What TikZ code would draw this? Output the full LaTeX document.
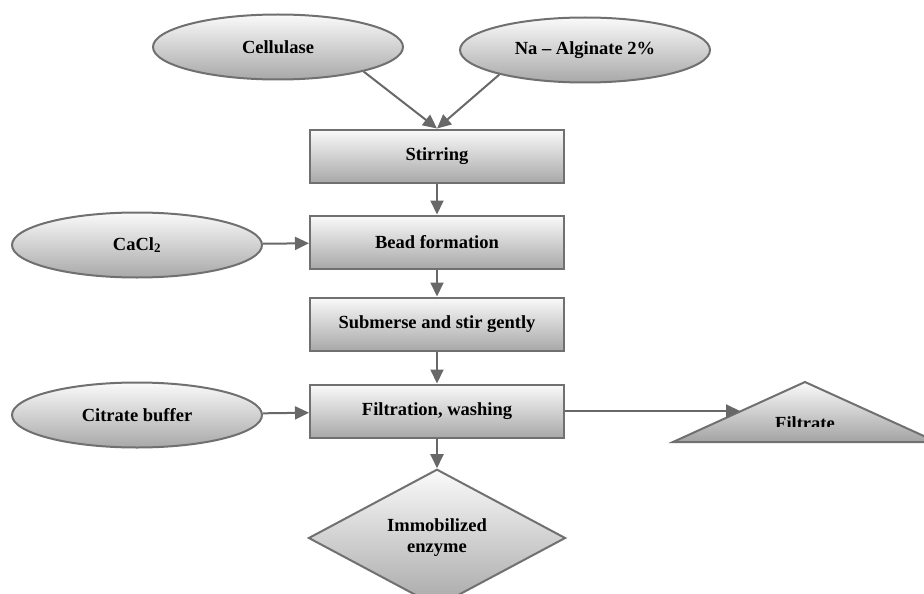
\documentclass[tikz,border=0pt]{standalone}
\usepackage{fontspec}
\setmainfont{Liberation Serif}
\usetikzlibrary{shapes.geometric,arrows.meta}
\definecolor{linegray}{HTML}{707070}
\definecolor{arrowgray}{HTML}{686868}
\tikzset{
  shadebox/.style={draw=linegray, line width=2pt, top color=gray!4, bottom color=gray!68,
    font=\bfseries\fontsize{18.5}{21}\selectfont, inner sep=0pt},
  procbox/.style={shadebox, rectangle, minimum width=254pt, minimum height=53pt},
  inputell/.style={shadebox, ellipse, minimum width=250pt, minimum height=65pt},
  outdiam/.style={shadebox, diamond, minimum width=257pt, minimum height=114pt, align=center},
  flowarrow/.style={draw=arrowgray, line width=2pt, -{Triangle[length=14pt,width=13pt]}}
}
\begin{document}
\begin{tikzpicture}[x=1pt,y=-1pt]
        \useasboundingbox (0,0) rectangle (924,594);

        \node[inputell] (cellulase) at (278,47) {Cellulase};
        \node[inputell] (alginate) at (585,50) {Na -- Alginate 2\%};
        \node[inputell] (cacl) at (137,245) {CaCl\textsubscript{2}};
        \node[inputell] (citrate) at (137,415) {Citrate buffer};

        \node[procbox] (stirring) at (437,156) {Stirring};
        \node[procbox] (bead) at (437,242) {Bead formation};
        \node[procbox] (submerse) at (437,324) {Submerse and stir gently};
        \node[procbox] (filtration) at (437,411) {Filtration, washing};

        \node[outdiam] (enzyme) at (437,538) {Immobilized\\enzyme};

        \shade[draw=linegray, line width=2pt, top color=gray!4, bottom color=gray!72]
            (673,442) -- (805,382) -- (937,442) -- cycle;
        \begin{scope}
            \clip (673,400) rectangle (937,426);
            \node[anchor=base, font=\bfseries\fontsize{18.5}{21}\selectfont, inner sep=0pt] (filtrate) at (805,429) {Filtrate};
        \end{scope}
        \coordinate (filtrate-in) at (740,411);

        \draw[flowarrow] (cellulase.-16) -- (stirring.north);
        \draw[flowarrow] (alginate.196) -- (stirring.north);
        \draw[flowarrow] (stirring) -- (bead);
        \draw[flowarrow] (cacl) -- (bead);
        \draw[flowarrow] (bead) -- (submerse);
        \draw[flowarrow] (submerse) -- (filtration);
        \draw[flowarrow] (citrate) -- (filtration);
        \draw[flowarrow] (filtration) -- (filtrate-in);
        \draw[flowarrow] (filtration) -- (enzyme);
    \end{tikzpicture}
\end{document}
